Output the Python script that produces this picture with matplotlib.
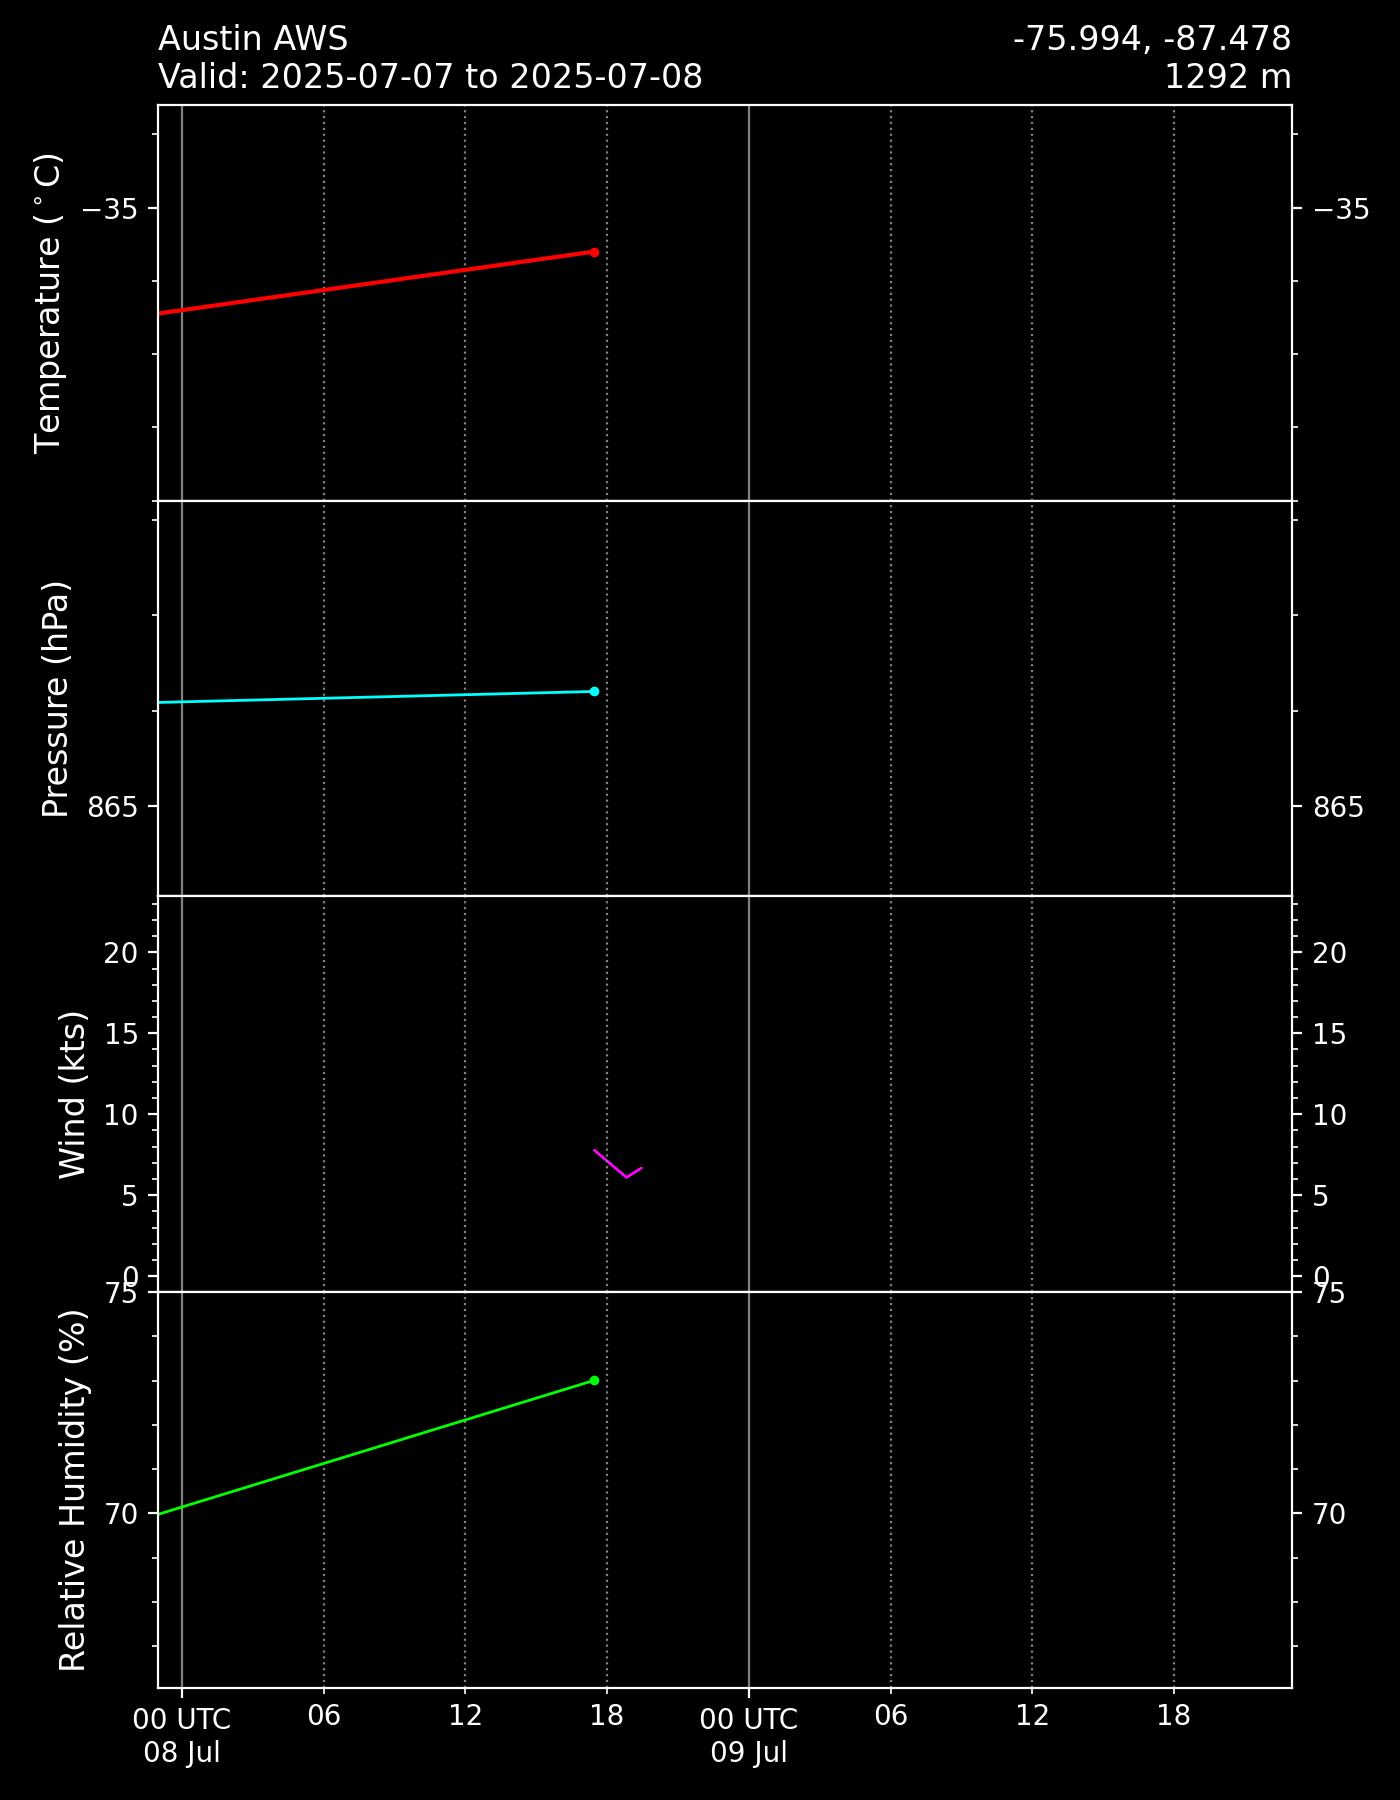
import numpy as np
import pandas as pd
import matplotlib
matplotlib.use('Agg')
import matplotlib.pyplot as plt
import matplotlib.dates as mdates
from matplotlib.ticker import MultipleLocator

plt.style.use('dark_background')
plt.rcParams.update({'font.size': 10})

station = 'Austin AWS'
lat, lon = -75.994, -87.478
elev = 1292
valid = ('2025-07-07', '2025-07-08')

# observations (first one falls just left of the plotted window)
times = pd.to_datetime(['2025-07-07 17:28', '2025-07-08 17:28'])
temp = [-36.70, -35.60]
pres = [866.05, 866.20]
wspd = [6.5, 7.77]
wdir = [125.0, 130.2]
rh = [69.07, 73.01]

xlim = pd.to_datetime(['2025-07-07 23:00', '2025-07-09 23:00'])
ylims = {'temp': (-39.0, -33.6), 'pres': (864.05, 868.2),
         'wind': (-1.0, 23.45), 'rh': (66.05, 75.0)}

wspd = np.array(wspd)
wdir = np.radians(wdir)
u = -wspd * np.sin(wdir)
v = -wspd * np.cos(wdir)

fig, ax = plt.subplots(4, 1, sharex=True, figsize=(7, 9), dpi=200)
fig.subplots_adjust(left=0.113, right=0.923, top=0.9417, bottom=0.0622, hspace=0)

ax[0].plot(times, temp, color='red', lw=1.5, marker='o', ms=2.5)
ax[0].set_ylabel(r'Temperature ($^\circ$C)', fontsize=12)
ax[0].set_ylim(ylims['temp'])

ax[1].plot(times, pres, color='cyan', lw=1.0, marker='o', ms=2.5)
ax[1].set_ylabel('Pressure (hPa)', fontsize=12)
ax[1].set_ylim(ylims['pres'])

# southern hemisphere station -> flipped barbs
ax[2].barbs(mdates.date2num(times), wspd, u, v, color='magenta', length=5.5, lw=0.8,
            flip_barb=lat < 0)
ax[2].set_ylabel('Wind (kts)', fontsize=12)
ax[2].set_ylim(ylims['wind'])

ax[3].plot(times, rh, color='lime', lw=1.0, marker='o', ms=2.5)
ax[3].set_ylabel('Relative Humidity (%)', fontsize=12)
ax[3].set_ylim(ylims['rh'])

for a in ax:
    a.yaxis.set_major_locator(MultipleLocator(5))
    a.yaxis.set_minor_locator(MultipleLocator(1))
    a.tick_params(axis='y', which='both', right=True, labelright=True)
    a.xaxis.set_major_locator(mdates.HourLocator(byhour=[0]))
    a.xaxis.set_minor_locator(mdates.HourLocator(byhour=[6, 12, 18]))
    a.grid(which='major', axis='x', color='gray', lw=0.8, ls='-')
    a.grid(which='minor', axis='x', color='gray', lw=0.8, ls=':')
    for s in a.spines.values():
        s.set_color('white')

ax[3].set_xlim(xlim)
ax[3].xaxis.set_major_formatter(mdates.DateFormatter('%H UTC\n%d %b'))
ax[3].xaxis.set_minor_formatter(mdates.DateFormatter('%H'))

ax[0].set_title(f'{station}\nValid: {valid[0]} to {valid[1]}', loc='left', fontsize=12)
ax[0].set_title(f'{lat}, {lon}\n{elev} m', loc='right', fontsize=12)

plt.savefig('out.png', dpi=200, facecolor='black')
